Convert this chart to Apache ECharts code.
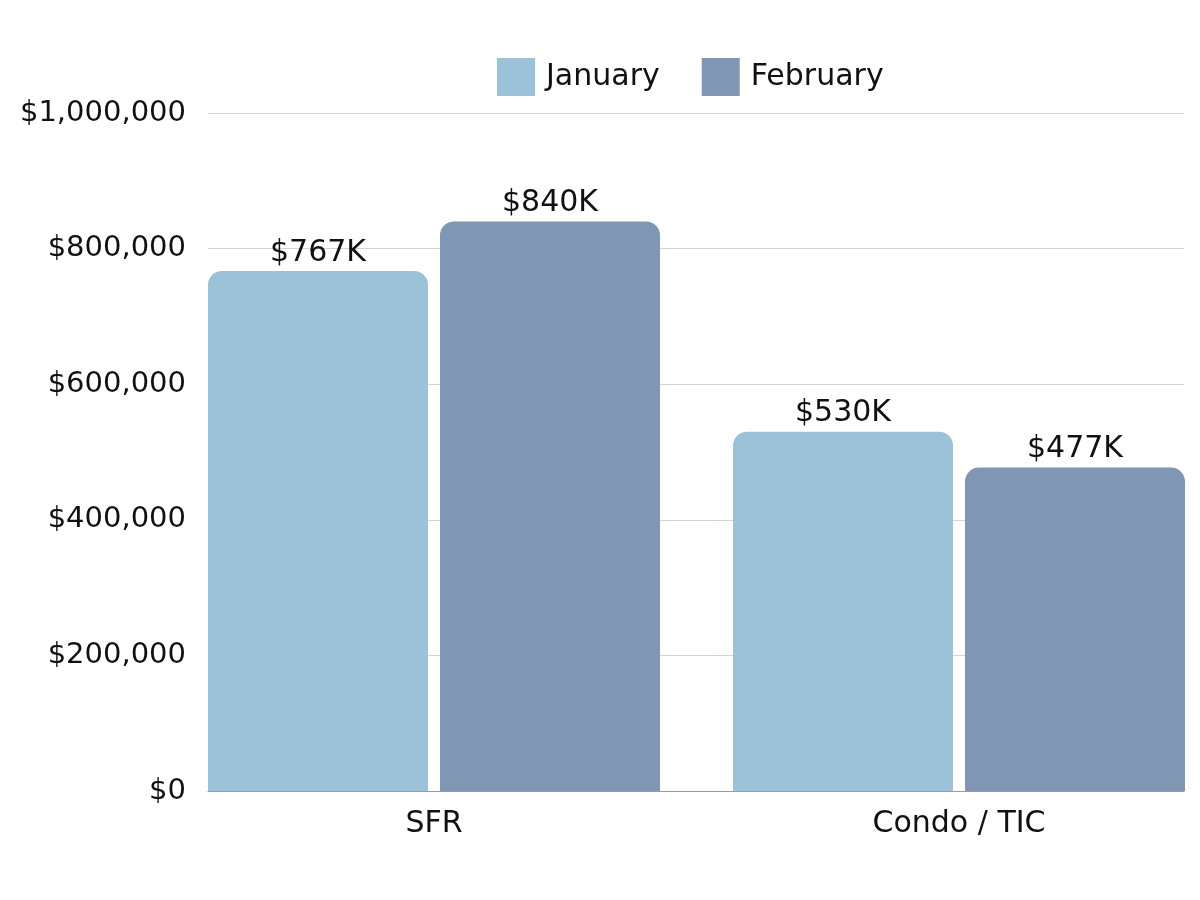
<!DOCTYPE html>
<html><head><meta charset="utf-8">
<script src="https://cdn.jsdelivr.net/npm/echarts@6/dist/echarts.min.js"></script>
<style>html,body{margin:0;padding:0;background:#fff;overflow:hidden;width:1200px;height:900px}#c{width:1240px;height:900px}</style>
</head><body><div id="c"></div>
<script>
const categories = ['SFR', 'Condo / TIC'];
const seriesNames = ['January', 'February'];
const january = [767000, 530000];
const february = [840000, 477000];
const dataLabels = [['$767K', '$530K'], ['$840K', '$477K']];

const FONT = 'DejaVu Sans';
const colors = ['#9bc2d8', '#7f97b4'];
const chart = echarts.init(document.getElementById('c'));
function money(v){ return '$' + v.toLocaleString('en-US'); }
const lbl = (i) => ({ show: true, position: 'top', distance: 3, fontFamily: FONT, fontSize: 30, color: '#111',
  formatter: p => dataLabels[i][p.dataIndex] });
chart.setOption({
  animation: false,
  textStyle: { fontFamily: FONT },
  color: colors,
  legend: {
    data: seriesNames, top: 53, left: 492,
    itemWidth: 38, itemHeight: 38, itemGap: 42, icon: 'rect',
    textStyle: { fontFamily: FONT, fontSize: 30, color: '#111', padding: [0,0,0,6] }
  },
  grid: [
    { left: 208, width: 976, top: 113, height: 678 },
    { left: 171.5, width: 1050, top: 113, height: 678 }
  ],
  xAxis: [
    { gridIndex: 0, type: 'value', min: 0, max: 1, axisLabel: { show: false }, axisTick: { show: false },
      splitLine: { show: false }, axisLine: { show: true, lineStyle: { color: '#9a9a9a', width: 1 } } },
    { gridIndex: 1, type: 'category', data: categories, axisTick: { show: false }, axisLine: { show: false },
      axisLabel: { fontFamily: FONT, fontSize: 30, color: '#111', margin: 18 } }
  ],
  yAxis: [
    { gridIndex: 0, type: 'value', min: 0, max: 1000000, interval: 200000,
      axisLabel: { fontFamily: FONT, fontSize: 29, color: '#111', margin: 22, formatter: v => money(v) },
      axisLine: { show: false }, axisTick: { show: false },
      splitLine: { lineStyle: { color: '#d4d4d4', width: 1 } } },
    { gridIndex: 1, type: 'value', min: 0, max: 1000000, interval: 200000, show: false, splitLine: { show: false } }
  ],
  series: [
    { name: seriesNames[0], type: 'bar', xAxisIndex: 1, yAxisIndex: 1, data: january,
      barWidth: 220, barGap: '5.45%',
      itemStyle: { color: colors[0], borderRadius: [14,14,0,0] }, label: lbl(0) },
    { name: seriesNames[1], type: 'bar', xAxisIndex: 1, yAxisIndex: 1, data: february,
      barWidth: 220, barGap: '5.45%',
      itemStyle: { color: colors[1], borderRadius: [14,14,0,0] }, label: lbl(1) }
  ]
});
</script></body></html>
